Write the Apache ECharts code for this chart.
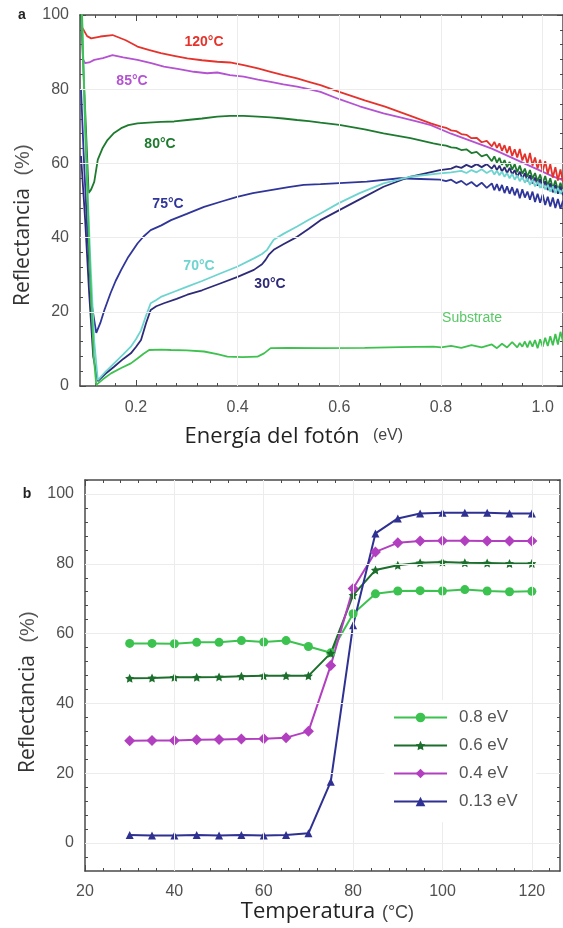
<!DOCTYPE html>
<html>
<head>
<meta charset="utf-8">
<script src="https://cdn.jsdelivr.net/npm/echarts@6/dist/echarts.min.js"></script>
<style>
html, body { margin: 0; padding: 0; background: #fff; }
#chart { width: 563px; height: 928px; }
</style>
</head>
<body>
<div id="chart"></div>
<script>
// Panel a : reflectance vs photon energy, [eV, %]
const c120 = [[0.092,97],[0.097,96],[0.104,94.3],[0.112,93.7],[0.13,94.2],[0.154,94.6],[0.18,93.2],[0.203,91.5],[0.225,90.6],[0.249,89.7],[0.275,89],[0.301,88.3],[0.33,87.8],[0.36,87.4],[0.385,87.2],[0.412,86.5],[0.44,85.6],[0.465,84.7],[0.49,83.8],[0.517,82.9],[0.54,82],[0.563,81.1],[0.6,79.3],[0.65,77],[0.69,75.3],[0.74,72.8],[0.78,70.8],
    [0.80,69.9],[0.81,69.6],[0.82,68.9],[0.83,68.7],[0.84,67.9],[0.85,67.7],[0.86,66.8],[0.87,66.9],[0.88,65.7],[0.89,66.1],[0.90,64.6],[0.905,65.8],[0.91,64.2],[0.915,65.4],[0.92,63.4],[0.925,64.9],[0.93,62.8],[0.935,64.6],[0.94,62.0],[0.945,63.8],[0.95,61.6],[0.955,63.9],[0.96,60.8],[0.965,62.6],[0.97,60.0],[0.975,62.8],[0.98,59.4],[0.985,61.6],[0.99,58.6],[0.995,61.0],[1.00,57.8],[1.005,60.6],[1.01,57.2],[1.015,59.8],[1.02,56.2],[1.025,59.0],[1.03,55.4],[1.035,58.4],[1.04,55.0]];
const c85 = [[0.096,88],[0.1,87],[0.108,87.2],[0.118,87.9],[0.135,88.4],[0.154,89.2],[0.175,88.6],[0.203,87.9],[0.23,87],[0.255,86.1],[0.285,85.4],[0.314,84.7],[0.34,84.3],[0.36,84.5],[0.385,83.8],[0.412,83.4],[0.44,82.6],[0.465,82],[0.49,81.3],[0.517,80.7],[0.54,80],[0.563,79.3],[0.6,77.3],[0.64,75.4],[0.687,73.5],[0.72,72.4],[0.752,71.3],[0.78,70.3],[0.82,68],[0.86,66],[0.9,64],[0.94,61.5],[0.98,59],[1.02,56.5],[1.04,55.5]];
const c80 = [[0.092,100],[0.1,75],[0.107,52],[0.112,53],[0.118,55],[0.125,61],[0.134,64],[0.144,66.3],[0.157,68.2],[0.171,69.5],[0.185,70.3],[0.203,70.8],[0.225,71],[0.249,71.2],[0.275,71.3],[0.301,71.7],[0.33,72.1],[0.36,72.6],[0.385,72.8],[0.412,72.8],[0.44,72.6],[0.465,72.4],[0.49,72.1],[0.517,71.7],[0.54,71.4],[0.563,71],[0.6,70.4],[0.65,69.2],[0.687,68.1],[0.74,66.8],[0.785,65.4],
    [0.80,65.0],[0.81,64.8],[0.82,64.3],[0.83,64.2],[0.84,63.6],[0.85,63.8],[0.86,62.8],[0.87,63.1],[0.88,61.9],[0.89,62.4],[0.90,60.6],[0.905,61.9],[0.91,60.2],[0.915,61.5],[0.92,59.6],[0.925,60.9],[0.93,59.0],[0.935,60.4],[0.94,58.3],[0.945,59.8],[0.95,57.6],[0.955,59.4],[0.96,57.2],[0.965,58.6],[0.97,56.4],[0.975,58.2],[0.98,55.9],[0.985,57.4],[0.99,55.2],[0.995,57.0],[1.00,54.6],[1.005,56.6],[1.01,54.0],[1.015,56.0],[1.02,53.2],[1.025,55.4],[1.03,52.8],[1.035,54.8],[1.04,52.6]];
const c75 = [[0.092,80],[0.098,60],[0.105,40],[0.113,22],[0.122,14.3],[0.13,17],[0.138,20.5],[0.15,25],[0.16,28.3],[0.171,31.3],[0.185,34.8],[0.203,38.4],[0.215,40.3],[0.229,42],[0.25,43.3],[0.269,44.7],[0.3,46.4],[0.334,48.3],[0.37,49.8],[0.399,51],[0.43,52],[0.465,52.8],[0.5,53.6],[0.53,54.2],[0.563,54.4],[0.6,54.7],[0.654,55.1],[0.719,56],[0.76,55.8],[0.798,55.6],
    [0.81,55.2],[0.82,55.6],[0.83,54.7],[0.84,55.3],[0.85,54.2],[0.86,55.0],[0.87,53.8],[0.88,54.8],[0.89,53.4],[0.90,54.6],[0.905,52.8],[0.91,54.4],[0.915,52.6],[0.92,54.2],[0.925,52.0],[0.93,53.8],[0.935,51.8],[0.94,53.6],[0.945,51.4],[0.95,53.2],[0.955,50.6],[0.96,53.0],[0.965,50.8],[0.97,52.4],[0.975,50.2],[0.98,52.4],[0.985,49.6],[0.99,51.8],[0.995,49.4],[1.00,51.6],[1.005,48.8],[1.01,51.0],[1.015,48.4],[1.02,50.8],[1.025,48.0],[1.03,50.4],[1.035,47.8],[1.04,50.0]];
const c30 = [[0.092,62],[0.1,45],[0.108,25],[0.116,8],[0.125,1.3],[0.14,3.3],[0.157,5.2],[0.175,7.3],[0.19,8.8],[0.2,10.5],[0.21,12.4],[0.22,17],[0.229,20.5],[0.24,21.5],[0.255,22.3],[0.28,23.5],[0.301,24.6],[0.33,25.8],[0.367,27.7],[0.4,29.4],[0.432,31.3],[0.448,32.8],[0.455,34],[0.462,35.5],[0.471,36.7],[0.49,38.2],[0.517,40.2],[0.54,42.4],[0.563,44.7],[0.6,47.4],[0.64,50.3],[0.687,53.7],[0.739,56.4],[0.798,58.2],
    [0.82,58.6],[0.83,59.2],[0.84,58.8],[0.85,59.6],[0.86,59.0],[0.87,59.8],[0.88,59.0],[0.89,59.8],[0.90,58.6],[0.905,59.6],[0.91,58.2],[0.915,59.4],[0.92,57.8],[0.925,59.0],[0.93,57.4],[0.935,58.8],[0.94,57.0],[0.945,58.2],[0.95,56.4],[0.955,57.8],[0.96,55.8],[0.965,57.4],[0.97,55.2],[0.975,56.8],[0.98,54.6],[0.985,56.2],[0.99,54.0],[0.995,55.8],[1.00,53.4],[1.005,55.2],[1.01,52.8],[1.015,54.6],[1.02,52.2],[1.025,54.2],[1.03,51.8],[1.035,53.8],[1.04,51.4]];
const c70 = [[0.092,110],[0.1,70],[0.11,35],[0.118,12],[0.125,1.6],[0.14,3.8],[0.157,6.1],[0.175,8.5],[0.19,10.6],[0.2,12.6],[0.21,15],[0.22,19],[0.229,22.3],[0.24,23.2],[0.249,24],[0.275,25.4],[0.301,26.8],[0.33,28.3],[0.367,30.4],[0.4,32.2],[0.432,34.4],[0.448,35.6],[0.458,36.7],[0.465,38.2],[0.471,39.4],[0.49,41],[0.517,43],[0.54,44.8],[0.563,46.5],[0.599,49.3],[0.64,52],[0.687,54.6],[0.739,56.4],[0.798,57.3],
    [0.82,57.6],[0.84,58.0],[0.85,57.4],[0.86,58.2],[0.87,57.6],[0.88,58.4],[0.89,57.4],[0.90,58.2],[0.905,57.0],[0.91,58.0],[0.915,56.8],[0.92,57.8],[0.925,56.4],[0.93,57.4],[0.935,56.0],[0.94,57.2],[0.945,55.6],[0.95,56.8],[0.955,55.2],[0.96,56.4],[0.965,54.8],[0.97,56.0],[0.975,54.2],[0.98,55.6],[0.985,53.8],[0.99,55.0],[0.995,53.4],[1.00,54.6],[1.005,53.0],[1.01,54.2],[1.015,52.4],[1.02,53.8],[1.025,52.0],[1.03,53.4],[1.035,51.8],[1.04,53.0]];
const cSub = [[0.092,110],[0.1,70],[0.11,30],[0.117,8],[0.122,0.3],[0.135,1.8],[0.151,3.4],[0.17,4.8],[0.19,6.1],[0.203,7.4],[0.215,8.7],[0.226,9.7],[0.25,9.8],[0.269,9.7],[0.3,9.6],[0.334,9.3],[0.36,8.6],[0.38,7.9],[0.41,7.8],[0.439,7.9],[0.446,8.4],[0.452,8.8],[0.465,10.2],[0.5,10.3],[0.563,10.2],[0.65,10.3],[0.72,10.5],[0.785,10.6],
    [0.8,10.4],[0.82,10.8],[0.84,10.3],[0.86,11.0],[0.88,10.4],[0.90,11.2],[0.91,10.2],[0.92,11.4],[0.93,10.4],[0.94,11.8],[0.95,10.4],[0.955,11.6],[0.96,10.6],[0.965,12.0],[0.97,10.4],[0.975,12.2],[0.98,10.6],[0.985,12.4],[0.99,10.2],[0.995,12.6],[1.00,10.6],[1.005,13.0],[1.01,10.8],[1.015,13.4],[1.02,11.0],[1.025,14.0],[1.03,11.2],[1.035,14.6],[1.04,12.0]];

// Panel b : reflectance vs temperature
const temps = [30,35,40,45,50,55,60,65,70,75,80,85,90,95,100,105,110,115,120];
const r08 = [57.2,57.2,57.1,57.5,57.5,58,57.6,58,56.3,54.5,65.7,71.4,72.2,72.3,72.2,72.6,72.2,72,72.1];
const r06 = [47.2,47.3,47.5,47.5,47.6,47.8,47.9,47.9,47.9,54.4,71,78.2,79.6,80.3,80.5,80.3,80.2,80.1,80.1];
const r04 = [29.3,29.4,29.4,29.6,29.7,29.8,29.9,30.2,32,50.9,72.9,83.4,86,86.5,86.6,86.6,86.5,86.5,86.5];
const r013 = [2.3,2.2,2.2,2.3,2.2,2.3,2.2,2.3,2.8,17.6,62.4,88.7,93,94.4,94.6,94.6,94.6,94.4,94.4];

// tick values
const eMajor = [0.2, 0.4, 0.6, 0.8, 1.0];
const rMajor = [0, 20, 40, 60, 80, 100];
const tMajor = [20, 40, 60, 80, 100, 120];

function steps(from, to, step, major) {
    const out = [];
    for (let v = from; v <= to + 1e-9; v += step) {
        const r = Math.round(v * 1000) / 1000;
        if (!major.some(m => Math.abs(m - r) < 1e-6)) out.push(r);
    }
    return out;
}
const eMinor = steps(0.12, 1.04, 0.04, eMajor);
const rMinorA = steps(4, 100, 4, rMajor);
const rMinorB = steps(-4, 104, 4, rMajor);
const tMinor = steps(24, 124, 4, tMajor);

const frameColor = '#4a4a4a';
const labelFont = { color: '#505050', fontSize: 16, fontFamily: 'Liberation Sans' };

// main + minor axis on one side, main + minor on the other
function frameAxes(gi, min, max, major, minor, fmt, sides, margin) {
    const base = { type: 'value', gridIndex: gi, min: min, max: max, splitLine: { show: false } };
    return [
        Object.assign({}, base, {
            position: sides[0],
            axisLine: { show: true, onZero: false, lineStyle: { color: frameColor, width: 1.5 } },
            axisTick: { show: true, inside: true, length: 6, customValues: major, lineStyle: { color: frameColor } },
            axisLabel: Object.assign({ show: true, customValues: major, formatter: fmt, margin: margin }, labelFont)
        }),
        Object.assign({}, base, {
            position: sides[0],
            axisLine: { show: false, onZero: false },
            axisTick: { show: true, inside: true, length: 3, customValues: minor, lineStyle: { color: frameColor } },
            axisLabel: { show: false }
        }),
        Object.assign({}, base, {
            position: sides[1],
            axisLine: { show: true, onZero: false, lineStyle: { color: frameColor, width: 1.5 } },
            axisTick: { show: true, inside: true, length: 6, customValues: major, lineStyle: { color: frameColor } },
            axisLabel: { show: false }
        }),
        Object.assign({}, base, {
            position: sides[1],
            axisLine: { show: false, onZero: false },
            axisTick: { show: true, inside: true, length: 3, customValues: minor, lineStyle: { color: frameColor } },
            axisLabel: { show: false }
        })
    ];
}

const xAxes = [].concat(
    frameAxes(0, 0.09, 1.04, eMajor, eMinor, v => v.toFixed(1), ['bottom', 'top'], 14),
    frameAxes(1, 20, 126.3, tMajor, tMinor, v => String(v), ['bottom', 'top'], 13)
);
const yAxes = [].concat(
    frameAxes(0, 0, 100, rMajor, rMinorA, v => String(v), ['left', 'right'], 11),
    frameAxes(1, -8, 104, rMajor, rMinorB, v => String(v), ['left', 'right'], 11)
);

// faint grid lines drawn as markLine segments [[x1, y1], [x2, y2]]
function gridLines(segs) {
    return {
        silent: true, symbol: 'none', label: { show: false },
        lineStyle: { color: '#ececec', width: 1, type: 'solid' },
        data: segs.map(s => [{ coord: s[0] }, { coord: s[1] }])
    };
}
const gridA = [
    [[0.4, 0], [0.4, 100]], [[0.6, 0], [0.6, 100]], [[0.8, 0], [0.8, 100]], [[1.0, 0], [1.0, 100]],
    [[0.09, 20], [1.04, 20]], [[0.09, 40], [1.04, 40]], [[0.09, 60], [1.04, 60]], [[0.09, 80], [1.04, 80]]
];
// the legend box (about 88..120 on x, 7..40 on y) hides the lines behind it
const gridB = [
    [[40, -8], [40, 104]], [[60, -8], [60, 104]], [[80, -8], [80, 104]],
    [[100, -8], [100, 6]], [[100, 41], [100, 104]], [[120, -8], [120, 104]],
    [[20, 0], [126.3, 0]], [[20, 20], [87, 20]], [[121, 20], [126.3, 20]],
    [[20, 40], [126.3, 40]], [[20, 60], [126.3, 60]], [[20, 80], [126.3, 80]], [[20, 100], [126.3, 100]]
];

function curve(name, data, color, extra) {
    return Object.assign({
        name: name, type: 'line', xAxisIndex: 0, yAxisIndex: 0,
        data: data, showSymbol: false, symbol: 'none',
        lineStyle: { color: color, width: 1.8 }, itemStyle: { color: color },
        animation: false, clip: true
    }, extra || {});
}

function tempSeries(name, vals, color, symbol, size) {
    return {
        name: name, type: 'line', xAxisIndex: 4, yAxisIndex: 4,
        data: temps.map((t, i) => [t, vals[i]]),
        symbol: symbol, symbolSize: size,
        lineStyle: { color: color, width: 2 }, itemStyle: { color: color },
        animation: false
    };
}

const series = [
    curve('85', c85, '#b452d2', { markLine: gridLines(gridA) }),
    curve('120', c120, '#e5322b'),
    curve('80', c80, '#1d7a2e'),
    curve('75', c75, '#2f3599'),
    curve('30', c30, '#2d2b78'),
    curve('70', c70, '#6dd4cf'),
    curve('sub', cSub, '#3ec14f'),
    Object.assign(tempSeries('0.8 eV', r08, '#3cc24f', 'circle', 9), { markLine: gridLines(gridB) }),
    tempSeries('0.6 eV', r06, '#1b6e2b', 'path://M0,-10L2.9,-4L9.5,-3.1L4.7,1.5L5.9,8.1L0,5L-5.9,8.1L-4.7,1.5L-9.5,-3.1L-2.9,-4Z', 9),
    tempSeries('0.4 eV', r04, '#b23fbf', 'diamond', 11),
    tempSeries('0.13 eV', r013, '#2e3192', 'triangle', 8)
];

function text(str, x, y, color, size, weight, family, rot) {
    return {
        type: 'text', x: x, y: y, rotation: rot || 0, silent: true, z: 10,
        style: {
            text: str, fill: color, fontSize: size, fontWeight: weight,
            fontFamily: family, align: 'center', verticalAlign: 'middle'
        }
    };
}

const graphics = [
    text('120°C', 204, 42, '#e5322b', 14, 'bold', 'Liberation Sans'),
    text('85°C', 132, 81, '#b452d2', 14, 'bold', 'Liberation Sans'),
    text('80°C', 160, 144, '#1d7a2e', 14, 'bold', 'Liberation Sans'),
    text('75°C', 168, 204, '#2f3599', 14, 'bold', 'Liberation Sans'),
    text('70°C', 199, 266, '#6dd4cf', 14, 'bold', 'Liberation Sans'),
    text('30°C', 270, 284, '#2d2b78', 14, 'bold', 'Liberation Sans'),
    text('Substrate', 472, 318, '#58c866', 14, 'normal', 'Liberation Sans'),
    text('a', 22, 15, '#222', 14, 'bold', 'Liberation Sans'),
    text('b', 27, 494, '#222', 14, 'bold', 'Liberation Sans'),
    text('Reflectancia', 23, 247, '#333', 21, 'normal', 'Open Sans', Math.PI / 2),
    text('(%)', 23, 160, '#555', 20, 'normal', 'Liberation Sans', Math.PI / 2),
    text('Reflectancia', 28, 714, '#333', 21, 'normal', 'Open Sans', Math.PI / 2),
    text('(%)', 28, 627, '#555', 20, 'normal', 'Liberation Sans', Math.PI / 2),
    text('Energía del fotón', 272, 437, '#222', 22, 'normal', 'Open Sans'),
    text('(eV)', 388, 436, '#444', 16, 'normal', 'Liberation Sans'),
    text('Temperatura', 308, 912, '#222', 22, 'normal', 'Open Sans'),
    text('(°C)', 398, 913, '#444', 18, 'normal', 'Liberation Sans')
];

const chart = echarts.init(document.getElementById('chart'));
chart.setOption({
    backgroundColor: '#fff',
    animation: false,
    grid: [
        { left: 80, right: 0, top: 15, height: 371 },
        { left: 85, right: 3, top: 480, height: 391 }
    ],
    xAxis: xAxes,
    yAxis: yAxes,
    legend: {
        data: ['0.8 eV', '0.6 eV', '0.4 eV', '0.13 eV'],
        orient: 'vertical', left: 389, top: 705,
        padding: [4, 4, 4, 4],
        itemWidth: 53, itemHeight: 12, itemGap: 11,
        textStyle: { color: '#555', fontSize: 17, fontFamily: 'Liberation Sans', padding: [0, 0, 0, 7] }
    },
    graphic: graphics,
    series: series
});
window.addEventListener('resize', () => chart.resize());
</script>
</body>
</html>
